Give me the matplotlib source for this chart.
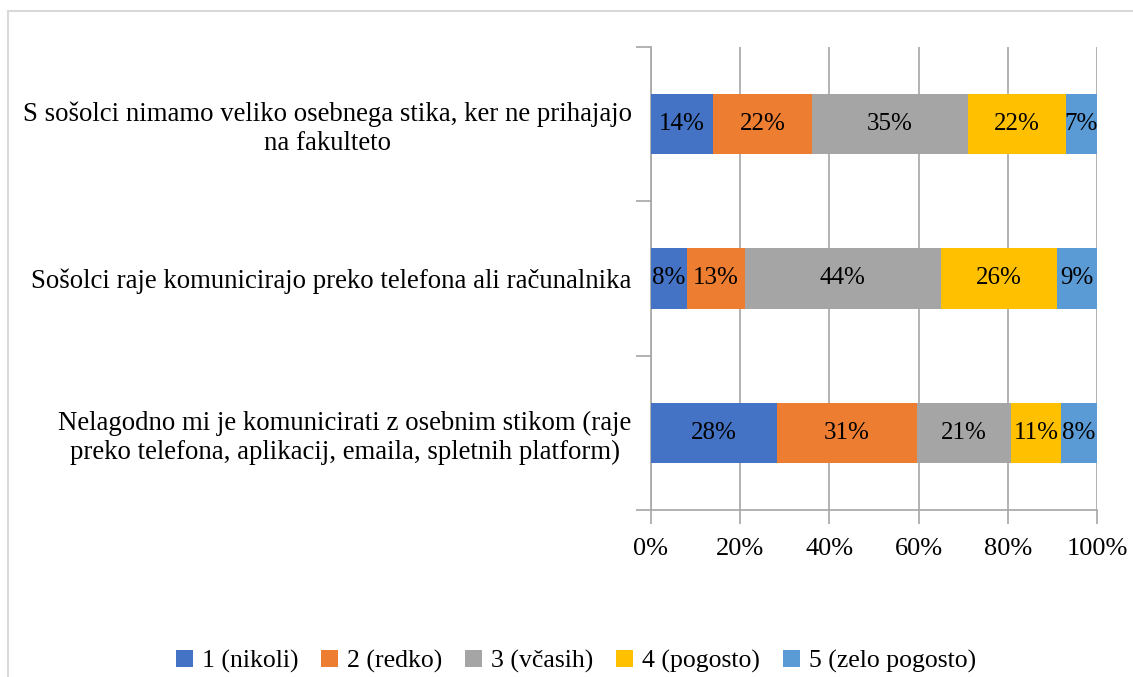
import numpy as np
import matplotlib
matplotlib.use("Agg")
import matplotlib.pyplot as plt
from matplotlib.patches import Rectangle

plt.rcParams['font.family'] = ['Liberation Serif', 'DejaVu Serif']

categories = [
    "S sošolci nimamo veliko osebnega stika, ker ne prihajajo\nna fakulteto",
    "Sošolci raje komunicirajo preko telefona ali računalnika",
    "Nelagodno mi je komunicirati z osebnim stikom (raje\npreko telefona, aplikacij, emaila, spletnih platform)",
]
series_names = ["1 (nikoli)", "2 (redko)", "3 (včasih)", "4 (pogosto)", "5 (zelo pogosto)"]
s1 = [14, 8, 28]
s2 = [22, 13, 31]
s3 = [35, 44, 21]
s4 = [22, 26, 11]
s5 = [7, 9, 8]
colors = ["#4472C4", "#ED7D31", "#A5A5A5", "#FFC000", "#5B9BD5"]

data = np.array([s1, s2, s3, s4, s5], dtype=float)
shares = data / data.sum(axis=0)

fig = plt.figure(figsize=(11.33, 6.77), dpi=100)
ax = fig.add_axes([651 / 1133, 1 - 510 / 677, 446 / 1133, 463 / 677])

# light frame around the chart area (cut at right and bottom)
fig.patches.append(Rectangle((8 / 1133, -0.1), 1.2, 0.1 + (677 - 11) / 677,
                             transform=fig.transFigure, fill=False,
                             edgecolor="#D9D9D9", linewidth=1.5))

y = np.arange(len(categories))[::-1]
left = np.zeros(len(categories))
for i, name in enumerate(series_names):
    bars = ax.barh(y, shares[i], left=left, height=0.39, color=colors[i],
                   label=name, zorder=3)
    for j, b in enumerate(bars):
        ax.text(left[j] + shares[i][j] / 2, y[j], f"{int(data[i][j])}%",
                ha="center", va="center", fontsize=18, color="black", zorder=4)
    left += shares[i]

ax.set_xlim(0, 1)
ax.set_ylim(-0.5, len(categories) - 0.5)
ax.set_xticks(np.linspace(0, 1, 6))
ax.set_xticklabels([f"{int(v)}%" for v in np.linspace(0, 100, 6)], fontsize=19)
ax.grid(axis="x", color="#A6A6A6", linewidth=1.2, zorder=0)

ax.set_yticks(y)
ax.set_yticklabels(categories, fontsize=19.3, linespacing=1.2)
for lbl in ax.get_yticklabels():
    lbl.set_multialignment("center")
ax.tick_params(axis="y", which="major", length=0, pad=14)
ax.set_yticks(np.arange(-0.5, len(categories), 1), minor=True)
ax.tick_params(axis="y", which="minor", length=11, color="#A6A6A6", width=1.2)
ax.tick_params(axis="x", length=10, color="#A6A6A6", width=1.2, pad=10)

for side in ["top", "right"]:
    ax.spines[side].set_visible(False)
for side in ["left", "bottom"]:
    ax.spines[side].set_color("#A6A6A6")
    ax.spines[side].set_linewidth(1.2)

fig.legend(loc="center", bbox_to_anchor=(576 / 1133, 1 - 661 / 677), ncol=5,
           frameon=False, fontsize=18.5, handlelength=0.65, handleheight=0.65,
           handletextpad=0.35, columnspacing=0.9)

fig.savefig("out.png", dpi=100)
plt.close(fig)
